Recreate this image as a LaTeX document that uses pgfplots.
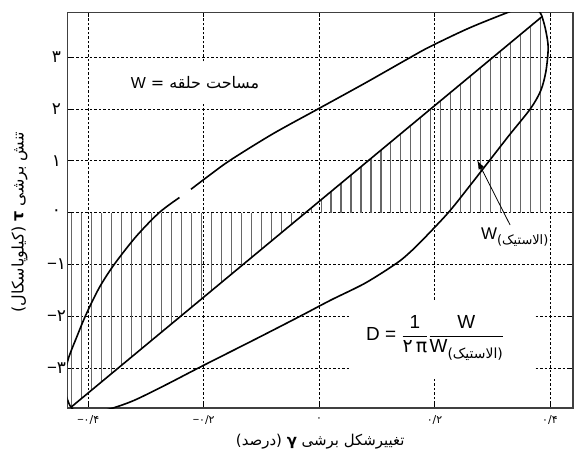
\documentclass[border=0pt]{standalone}
\usepackage{pgfplots}
\pgfplotsset{compat=1.18}
\usepackage{fontspec}
\setmainfont{Liberation Sans}
\newfontfamily\fa[Script=Arabic]{DejaVu Sans}
\usetikzlibrary{arrows.meta}
\TeXXeTstate=1

\begin{document}
\begin{tikzpicture}
\path[use as bounding box] (-67.5bp,-42bp) rectangle (507.5bp,408bp);
\begin{axis}[
    at={(0,0)}, anchor=south west,
    width=505.5bp, height=395.5bp, scale only axis,
    xmin=-0.436, xmax=0.44,
    ymin=-3.77, ymax=3.86,
    xtick={-0.4,-0.2,0,0.2,0.4},
    xticklabels={{{\rmfamily −}۰/۴},{{\rmfamily −}۰/۲},{۰},{۰/۲},{۰/۴}},
    ytick={-3,-2,-1,0,1,2,3},
    yticklabels={{{\rmfamily −}۳},{{\rmfamily −}۲},{{\rmfamily −}۱},{۰},{۱},{۲},{۳}},
    xticklabel style={font=\fa\fontsize{11}{12}\selectfont, anchor=center, yshift=-12bp},
    yticklabel style={font=\fa\fontsize{17}{18}\selectfont, anchor=center, xshift=-11bp},
    tick align=inside,
    major tick length=5bp,
    tick style={black, line width=0.8bp},
    axis line style={black!75, line width=1.1bp},
    grid=major,
    grid style={black, line width=0.6bp, dash pattern=on 2.5bp off 2bp},
    xlabel={\beginR تغییرشکل برشی {\bfseries γ} (درصد)\endR},
    ylabel={\beginR تنش برشی {\bfseries τ} (کیلوپاسکال)\endR},
    xlabel style={font=\fa\fontsize{15}{17}\selectfont, at={(axis description cs:0.5,0)}, anchor=center, yshift=-34bp},
    ylabel style={font=\fa\fontsize{16}{18}\selectfont, at={(axis description cs:0,0.47)}, anchor=center, yshift=48bp},
]
% hatching between the elastic line and y = 0
\addplot[ycomb, black!60, line width=1.1bp] coordinates {
    (0.3840,3.760) (0.3667,3.600) (0.3494,3.441) (0.3321,3.281)
    (0.3148,3.121) (0.2975,2.961) (0.2802,2.802) (0.2629,2.642)
    (0.2456,2.482) (0.2283,2.322) (0.2110,2.163) (0.1937,2.003)
    (0.1764,1.843) (0.1591,1.684) (0.1418,1.524) (0.1245,1.364)
    (0.1072,1.204) (0.0899,1.045) (0.0726,0.885) (0.0553,0.725)
    (0.0380,0.565) (0.0207,0.406) (0.0034,0.246) (-0.0139,0.086)
    (-0.0312,-0.074) (-0.0485,-0.233) (-0.0658,-0.393) (-0.0831,-0.553)
    (-0.1004,-0.712) (-0.1177,-0.872) (-0.1350,-1.032) (-0.1523,-1.192)
    (-0.1696,-1.351) (-0.1869,-1.511) (-0.2042,-1.671) (-0.2215,-1.831)
    (-0.2388,-1.990) (-0.2561,-2.150) (-0.2734,-2.310) (-0.2907,-2.469)
    (-0.3080,-2.629) (-0.3253,-2.789) (-0.3426,-2.949) (-0.3599,-3.108)
    (-0.3772,-3.268) (-0.3945,-3.428) (-0.4118,-3.588) (-0.4291,-3.747)
};
% elastic line
\addplot[black, line width=1.6bp] coordinates {(-0.429,-3.746) (0.386,3.778)};
% hysteresis loop (with the small break of the original)
\addplot[black, line width=1.6bp, smooth] coordinates {
    (-0.222,0.45) (-0.19,0.72) (-0.154,1.01) (-0.08,1.52) (0.0,2.01)
    (0.08,2.5) (0.156,2.98) (0.192,3.2) (0.26,3.56) (0.329,3.87)
    (0.35,3.95) (0.37,3.95) (0.383,3.86) (0.388,3.72) (0.393,3.5)
    (0.397,3.18) (0.393,2.72) (0.384,2.35) (0.366,2.0) (0.33,1.5)
    (0.295,1.0) (0.26,0.5) (0.224,0.0) (0.18,-0.52) (0.157,-0.77)
    (0.134,-0.98) (0.08,-1.36) (0.02,-1.69) (-0.033,-2.0) (-0.11,-2.44)
    (-0.206,-2.98) (-0.265,-3.32) (-0.32,-3.62) (-0.36,-3.78) (-0.395,-3.87)
    (-0.42,-3.84) (-0.432,-3.72) (-0.441,-3.4) (-0.440,-3.1) (-0.434,-2.8)
    (-0.42,-2.4) (-0.404,-1.97) (-0.381,-1.45) (-0.355,-1.0) (-0.317,-0.46)
    (-0.277,0.0) (-0.242,0.29)
};
\draw[black, line width=0.8bp, -{Latex[length=9bp,width=6bp]}]
    (axis cs:0.331,-0.24) -- (axis cs:0.274,1.01);
\node[fill=white, inner sep=0pt, minimum width=150bp, minimum height=40bp]
    at (axis cs:-0.215,2.50) {\fontsize{16}{18}\selectfont\fa\beginR مساحت حلقه = {\rmfamily W}\endR};
\node[inner sep=0pt] at (axis cs:0.339,-0.47)
    {\fontsize{17}{19}\selectfont W\raisebox{-0.6ex}{\fa\fontsize{13}{14}\selectfont (الاستیک)}};
\node[fill=white, inner sep=0pt, minimum width=185bp, minimum height=77bp]
    at (axis cs:0.213,-2.42) {};
\node[inner sep=0pt] at (axis cs:0.201,-2.42) {\fontsize{19}{22}\selectfont D = $\displaystyle
    \frac{\mbox{1}}{\mbox{\fa ۲\,π}}\frac{\mbox{W}}{\mbox{W\raisebox{-0.6ex}{\fa\fontsize{14}{15}\selectfont (الاستیک)}}}$};
\end{axis}
\end{tikzpicture}
\end{document}
